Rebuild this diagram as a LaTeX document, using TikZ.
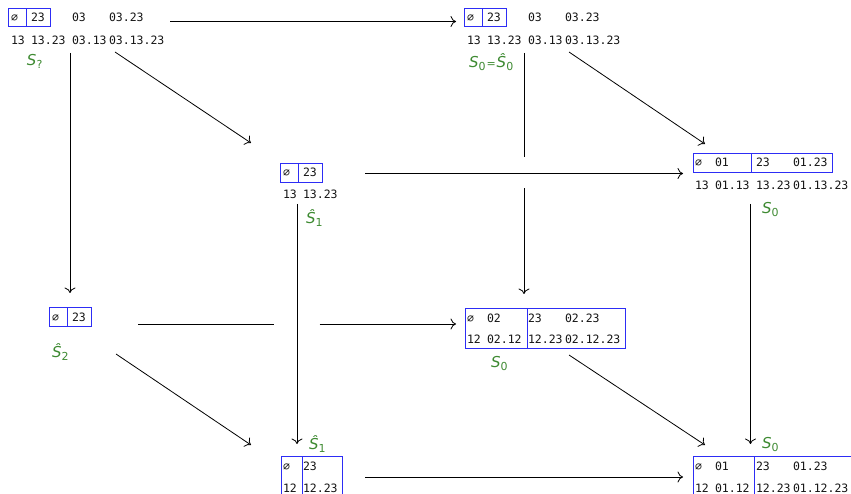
\documentclass[tikz,border=0pt]{standalone}
\usepackage{fontspec}
\newfontfamily\monof{DejaVu Sans Mono}
\newfontfamily\labf{DejaVu Sans}
\usetikzlibrary{arrows.meta}
\definecolor{boxblue}{RGB}{45,45,245}
\definecolor{labgreen}{RGB}{62,138,50}
\definecolor{txt}{RGB}{20,20,20}
\newcommand{\bigS}[1]{{\fontsize{15}{17}\selectfont\itshape #1}}
\newcommand{\subx}[1]{\raisebox{-3pt}{\fontsize{11}{13}\selectfont #1}}
\begin{document}
\begin{tikzpicture}[x=1pt,y=-1pt,
  tx/.style={anchor=base west,inner sep=0pt,outer sep=0pt,text=txt,font=\monof\fontsize{11.5}{14}\selectfont},
  lab/.style={anchor=base west,inner sep=0pt,outer sep=0pt,text=labgreen,font=\labf},
  bx/.style={draw=boxblue,line width=0.9pt},
  ln/.style={draw=black,line width=0.8pt},
  arr/.style={ln,-{Computer Modern Rightarrow[length=5.5pt,width=11pt]}}]
\useasboundingbox (0,0) rectangle (851,494);

% ---------- A (top left)
\draw[bx] (8,8.5) rectangle (50,26.5) (26,8.5) -- (26,26.5);
\node[tx] (A11) at (11,21.5) {∅};
\node[tx] (A12) at (31,21.5) {23};
\node[tx] (A13) at (72,21.5) {03};
\node[tx] (A14) at (109,21.5) {03.23};
\node[tx] (A21) at (11,45) {13};
\node[tx] (A22) at (31,45) {13.23};
\node[tx] (A23) at (72,45) {03.13};
\node[tx] (A24) at (109,45) {03.13.23};
\node[lab] (LA) at (27,66) {\bigS{S}\subx{?}};

% ---------- B (top middle)
\draw[bx] (464,8.5) rectangle (506,26.5) (482,8.5) -- (482,26.5);
\node[tx] (B11) at (467,21.5) {∅};
\node[tx] (B12) at (487,21.5) {23};
\node[tx] (B13) at (528,21.5) {03};
\node[tx] (B14) at (565,21.5) {03.23};
\node[tx] (B21) at (467,45) {13};
\node[tx] (B22) at (487,45) {13.23};
\node[tx] (B23) at (528,45) {03.13};
\node[tx] (B24) at (565,45) {03.13.23};
\node[lab] (LB) at (469,67.5) {\bigS{S}\subx{0}\kern1pt{\fontsize{11}{13}\selectfont=}\kern1pt\bigS{Ŝ}\subx{0}};

% ---------- C (middle left, upper)
\draw[bx] (280,163) rectangle (322,182) (298,163) -- (298,182);
\node[tx] (C11) at (283,177) {∅};
\node[tx] (C12) at (303,177) {23};
\node[tx] (C21) at (283,198.5) {13};
\node[tx] (C22) at (303,198.5) {13.23};
\node[lab] (LC) at (306,224) {\bigS{Ŝ}\subx{1}};

% ---------- D (top right)
\draw[bx] (693,153.5) rectangle (832,172) (751,153.5) -- (751,172);
\node[tx] (D11) at (695,167) {∅};
\node[tx] (D12) at (715,167) {01};
\node[tx] (D13) at (756,167) {23};
\node[tx] (D14) at (793,167) {01.23};
\node[tx] (D21) at (695,190) {13};
\node[tx] (D22) at (715,190) {01.13};
\node[tx] (D23) at (756,190) {13.23};
\node[tx] (D24) at (793,190) {01.13.23};
\node[lab] (LD) at (762,214) {\bigS{S}\subx{0}};

% ---------- E (middle left)
\draw[bx] (49,307.5) rectangle (91,326) (67,307.5) -- (67,326);
\node[tx] (E11) at (52,321) {∅};
\node[tx] (E12) at (72,321) {23};
\node[lab] (LE) at (52,357) {\bigS{Ŝ}\subx{2}};

% ---------- F (middle)
\draw[bx] (465,308.5) rectangle (625,348.5) (527,308.5) -- (527,348.5);
\node[tx] (F11) at (467,322) {∅};
\node[tx] (F12) at (487,322) {02};
\node[tx] (F13) at (528,322) {23};
\node[tx] (F14) at (565,322) {02.23};
\node[tx] (F21) at (467,343.5) {12};
\node[tx] (F22) at (487,343.5) {02.12};
\node[tx] (F23) at (528,343.5) {12.23};
\node[tx] (F24) at (565,343.5) {02.12.23};
\node[lab] (LF) at (491,367) {\bigS{S}\subx{0}};

% ---------- G (bottom middle left)
\draw[bx] (281,456) rectangle (342,505) (302,456) -- (302,505);
\node[tx] (G11) at (283,470) {∅};
\node[tx] (G12) at (303,470) {23};
\node[tx] (G21) at (283,492.5) {12};
\node[tx] (G22) at (303,492.5) {12.23};
\node[lab] (LG) at (309,449) {\bigS{Ŝ}\subx{1}};

% ---------- H (bottom right)
\draw[bx] (693,456) rectangle (858,505) (754,456) -- (754,505);
\node[tx] (H11) at (695,470) {∅};
\node[tx] (H12) at (715,470) {01};
\node[tx] (H13) at (756,470) {23};
\node[tx] (H14) at (793,470) {01.23};
\node[tx] (H21) at (695,492.5) {12};
\node[tx] (H22) at (715,492.5) {01.12};
\node[tx] (H23) at (756,492.5) {12.23};
\node[tx] (H24) at (793,492.5) {01.12.23};
\node[lab] (LH) at (762,448) {\bigS{S}\subx{0}};

% ---------- connector end points
\coordinate (A-r) at (170,21.5);   \coordinate (B-l) at (456,21.5);
\coordinate (A-dr) at (115,52);    \coordinate (C-ul) at (251,143);
\coordinate (A-d) at (70,53);      \coordinate (E-u) at (70,293);
\coordinate (B-dr) at (569,52);    \coordinate (D-ul) at (705,144);
\coordinate (B-d) at (524,53);     \coordinate (F-u) at (524,294);
\coordinate (BFa) at (524,157);    \coordinate (BFb) at (524,188.5);
\coordinate (C-r) at (365,173.5);  \coordinate (D-l) at (683,173.5);
\coordinate (C-d) at (297,204);    \coordinate (G-u) at (297,444);
\coordinate (D-d) at (750.5,204);  \coordinate (H-u) at (750.5,444);
\coordinate (E-r) at (138,324);    \coordinate (F-l) at (456,324);
\coordinate (EFa) at (274,324);    \coordinate (EFb) at (319.5,324);
\coordinate (E-dr) at (116,354);   \coordinate (G-ul) at (251,445);
\coordinate (F-dr) at (569,355);   \coordinate (H-ul) at (705,445);
\coordinate (G-r) at (365,477);    \coordinate (H-l) at (683,477);

% ---------- connectors
\draw[arr] (A-r) -- (B-l);
\draw[arr] (A-dr) -- (C-ul);
\draw[arr] (A-d) -- (E-u);
\draw[arr] (B-dr) -- (D-ul);
\draw[ln] (B-d) -- (BFa);
\draw[arr] (BFb) -- (F-u);
\draw[arr] (C-r) -- (D-l);
\draw[arr] (C-d) -- (G-u);
\draw[arr] (D-d) -- (H-u);
\draw[ln] (E-r) -- (EFa);
\draw[arr] (EFb) -- (F-l);
\draw[arr] (E-dr) -- (G-ul);
\draw[arr] (F-dr) -- (H-ul);
\draw[arr] (G-r) -- (H-l);
\end{tikzpicture}
\end{document}
